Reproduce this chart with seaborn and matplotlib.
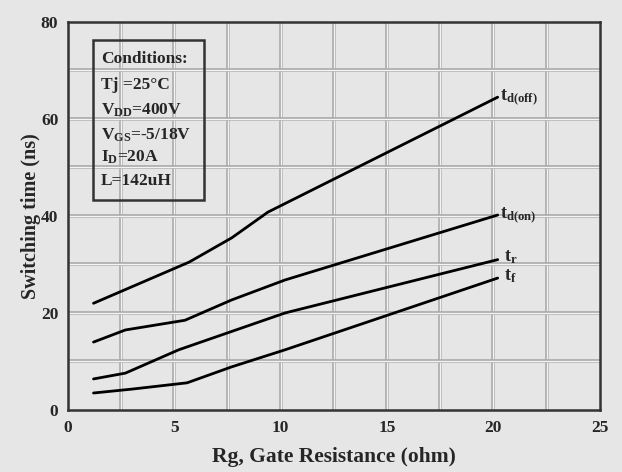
import numpy as np
import pandas as pd
import seaborn as sns
import matplotlib.pyplot as plt
from matplotlib.ticker import MultipleLocator

# datos
rg_off = [1.2, 5.7, 7.7, 9.4, 20.2]
td_off = [22.0, 30.5, 35.5, 40.8, 64.5]
rg_on = [1.2, 2.7, 5.5, 7.7, 10.2, 20.2]
td_on = [14.0, 16.5, 18.5, 22.7, 26.8, 40.2]
rg_r = [1.2, 2.7, 5.2, 10.2, 20.2]
t_r = [6.4, 7.6, 12.4, 20.0, 31.0]
rg_f = [1.2, 3.0, 5.6, 7.7, 10.2, 20.2]
t_f = [3.5, 4.3, 5.6, 8.9, 12.4, 27.2]

curve_names = [r"$\mathbf{t_{d(off)}}$", r"$\mathbf{t_{d(on)}}$", r"$\mathbf{t_r}$", r"$\mathbf{t_f}$"]
conditions = ["Conditions:", "Tj =25°C", r"V$_{\mathbf{DD}}$=400V", r"V$_{\mathbf{GS}}$=-5/18V",
              r"I$_{\mathbf{D}}$=20A", "L=142uH"]

sns.set_style("white")
plt.rcParams["font.family"] = ["Liberation Serif", "DejaVu Serif"]
plt.rcParams["font.weight"] = "bold"
plt.rcParams["mathtext.fontset"] = "custom"
plt.rcParams["mathtext.rm"] = "Liberation Serif:bold"
plt.rcParams["mathtext.bf"] = "Liberation Serif:bold"
plt.rcParams["mathtext.it"] = "Liberation Serif:bold"

bg = "#e6e6e6"
fig = plt.figure(figsize=(6.22, 4.72), dpi=100, facecolor=bg)
ax = fig.add_axes([0.1093, 0.1314, 0.855, 0.822])
ax.set_facecolor(bg)

# rejilla doble (gris + blanco)
for xv in np.arange(2.5, 25, 2.5):
    ax.axvline(xv, color="#a8a8a8", lw=2.6, zorder=0)
    ax.axvline(xv, color="#f4f4f4", lw=1.0, zorder=0)
for yv in np.arange(10, 80, 10):
    ax.axhline(yv, color="#a8a8a8", lw=2.6, zorder=0)
    ax.axhline(yv, color="#f4f4f4", lw=1.0, zorder=0)

series = [(rg_off, td_off), (rg_on, td_on), (rg_r, t_r), (rg_f, t_f)]
for xs, ys in series:
    sns.lineplot(x=xs, y=ys, ax=ax, color="black", lw=2.0, zorder=3)

# etiquetas de curvas
ax.text(20.3, td_off[-1], curve_names[0], fontsize=13, va="center", ha="left")
ax.text(20.3, td_on[-1], curve_names[1], fontsize=13, va="center", ha="left")
ax.text(20.5, t_r[-1] + 0.6, curve_names[2], fontsize=13, va="center", ha="left")
ax.text(20.5, t_f[-1] + 0.4, curve_names[3], fontsize=13, va="center", ha="left")

ax.set_xlim(0, 25)
ax.set_ylim(0, 80)
ax.xaxis.set_major_locator(MultipleLocator(5))
ax.xaxis.set_minor_locator(MultipleLocator(2.5))
ax.yaxis.set_major_locator(MultipleLocator(20))
ax.yaxis.set_minor_locator(MultipleLocator(10))
ax.tick_params(which="both", direction="in", labelsize=12.5, length=4, width=1.2)
ax.tick_params(axis="x", pad=7)
ax.tick_params(axis="y", pad=7)
for lab in ax.get_xticklabels() + ax.get_yticklabels():
    lab.set_fontweight("bold")
for s in ax.spines.values():
    s.set_linewidth(1.8)
    s.set_color("#333333")

ax.set_xlabel("Rg, Gate Resistance (ohm)", fontsize=15.5, fontweight="bold", labelpad=8)
ax.set_ylabel("Switching time (ns)", fontsize=14.5, fontweight="bold", labelpad=0)

# caja de condiciones
box = plt.Rectangle((1.18, 43.2), 5.2, 33.0, fill=False, ec="#333333", lw=1.8, zorder=4)
ax.add_patch(box)
ys_txt = [72.3, 67.0, 61.8, 56.6, 52.0, 47.3]
for t, yv in zip(conditions, ys_txt):
    ax.text(1.55, yv, t, fontsize=12.5, fontweight="bold", va="center", ha="left", zorder=5)

fig.savefig("out.png", dpi=100, facecolor=bg)
